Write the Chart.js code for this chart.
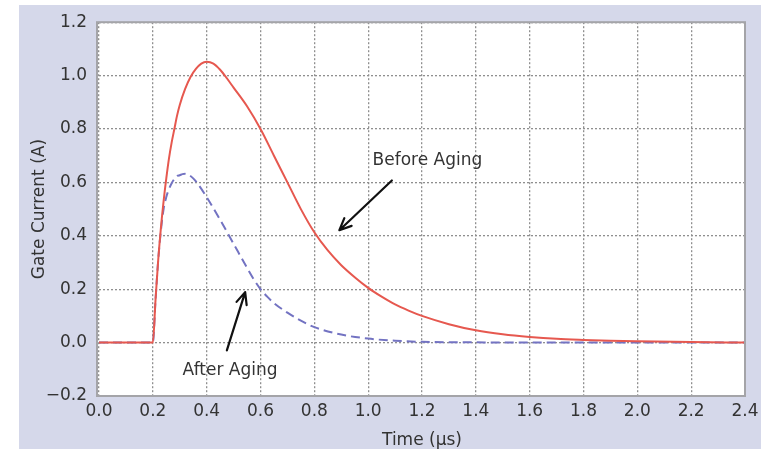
<!DOCTYPE html>
<html>
<head>
<meta charset="utf-8">
<script src="https://cdn.jsdelivr.net/npm/chart.js@4.4.1/dist/chart.umd.min.js"></script>
<style>
  html, body { margin: 0; padding: 0; background: #fff; }
  #wrap { position: relative; width: 769px; height: 449px; overflow: hidden; }
  #panel { position: absolute; left: 19px; top: 5px; width: 742px; height: 444px; background: #d5d8ea; }
  #c { position: absolute; left: 0; top: 0; }
</style>
</head>
<body>
<div id="wrap">
  <div id="panel"></div>
  <canvas id="c" width="769" height="449"></canvas>
</div>
<script>
// Gate current pulse, before / after aging

const timeBefore = [0, 0.2, 0.21, 0.22, 0.23, 0.24, 0.25, 0.26, 0.27, 0.28, 0.29, 0.30, 0.32, 0.34, 0.36, 0.38, 0.40,
  0.425, 0.45, 0.475, 0.5, 0.55, 0.6, 0.65, 0.7, 0.75, 0.8, 0.85, 0.9, 0.95, 1.0, 1.05, 1.1, 1.15, 1.2,
  1.3, 1.4, 1.5, 1.6, 1.7, 1.8, 1.9, 2.0, 2.2, 2.4];
const currentBefore = [0, 0, 0.16, 0.31, 0.43, 0.53, 0.615, 0.69, 0.75, 0.8, 0.85, 0.89, 0.95, 0.995, 1.025, 1.045, 1.052,
  1.045, 1.022, 0.99, 0.955, 0.885, 0.8, 0.7, 0.6, 0.5, 0.413, 0.345, 0.29, 0.245, 0.205, 0.172, 0.143, 0.12, 0.1,
  0.069, 0.046, 0.031, 0.021, 0.014, 0.01, 0.007, 0.005, 0.002, 0];

const timeAfter = [0, 0.2, 0.21, 0.22, 0.23, 0.24, 0.25, 0.26, 0.27, 0.28, 0.29, 0.30, 0.31, 0.32, 0.335, 0.35, 0.363,
  0.4, 0.45, 0.5, 0.55, 0.575, 0.6, 0.625, 0.65, 0.7, 0.75, 0.8, 0.9, 1.0, 1.1, 1.2, 1.4, 1.6, 2.4];
const currentAfter = [0, 0, 0.16, 0.31, 0.42, 0.5, 0.545, 0.575, 0.597, 0.613, 0.624, 0.627, 0.631, 0.632, 0.627, 0.615, 0.6,
  0.545, 0.46, 0.37, 0.28, 0.237, 0.2, 0.172, 0.148, 0.112, 0.082, 0.058, 0.03, 0.015, 0.007, 0.003, 0.001, 0, 0];

const xTicks = [0, 0.2, 0.4, 0.6, 0.8, 1.0, 1.2, 1.4, 1.6, 1.8, 2.0, 2.2, 2.4];
const yTicks = [-0.2, 0, 0.2, 0.4, 0.6, 0.8, 1.0, 1.2];

// annotations: text spot and arrow tail -> tip, in data units
const labelBefore = { text: "Before Aging", at: [1.22, 0.68], tail: [1.088, 0.607], tip: [0.893, 0.421] };
const labelAfter = { text: "After Aging", at: [0.487, -0.103], tail: [0.475, -0.029], tip: [0.543, 0.189] };

const pts = (xs, ys) => xs.map((x, i) => ({ x, y: ys[i] }));
const fmt = (v) => v.toFixed(1).replace("-", "\u2212");
const FONT = "'DejaVu Sans', sans-serif";
const TXT = "#333";

const plotFrame = {
  id: "plotFrame",
  beforeDraw(chart) {
    const { ctx, chartArea: a } = chart;
    ctx.save();
    ctx.fillStyle = "#fff";
    ctx.fillRect(a.left - 2, a.top, a.right - a.left + 2, a.bottom - a.top);
    ctx.restore();
  },
  afterDraw(chart) {
    const { ctx, chartArea: a } = chart;
    ctx.save();
    ctx.strokeStyle = "#a4a4a8";
    ctx.lineWidth = 2;
    ctx.strokeRect(a.left - 2, a.top, a.right - a.left + 2, a.bottom - a.top);
    ctx.restore();
  }
};

function arrow(ctx, x0, y0, x1, y1) {
  const ang = Math.atan2(y1 - y0, x1 - x0);
  const hl = 13, hw = 0.42;
  ctx.beginPath();
  ctx.moveTo(x0, y0);
  ctx.lineTo(x1, y1);
  ctx.moveTo(x1 - hl * Math.cos(ang - hw), y1 - hl * Math.sin(ang - hw));
  ctx.lineTo(x1, y1);
  ctx.lineTo(x1 - hl * Math.cos(ang + hw), y1 - hl * Math.sin(ang + hw));
  ctx.stroke();
}

const notes = {
  id: "notes",
  afterDatasetsDraw(chart) {
    const { ctx, scales: { x, y } } = chart;
    ctx.save();
    ctx.strokeStyle = "#111";
    ctx.lineWidth = 2.2;
    ctx.lineCap = "round";
    ctx.lineJoin = "round";
    ctx.fillStyle = TXT;
    ctx.font = "17px " + FONT;
    ctx.textAlign = "center";
    ctx.textBaseline = "middle";
    [labelBefore, labelAfter].forEach(n => {
      arrow(ctx, x.getPixelForValue(n.tail[0]), y.getPixelForValue(n.tail[1]),
        x.getPixelForValue(n.tip[0]), y.getPixelForValue(n.tip[1]));
      ctx.fillText(n.text, x.getPixelForValue(n.at[0]), y.getPixelForValue(n.at[1]));
    });
    ctx.restore();
  }
};

const gridOpts = { color: "#8f8f8f", lineWidth: 1.3, drawTicks: false };
const dotted = { display: false, dash: [2, 2] };

new Chart(document.getElementById("c"), {
  type: "line",
  data: {
    datasets: [
      { label: "Before Aging", data: pts(timeBefore, currentBefore), borderColor: "#e6584f",
        borderWidth: 2, pointRadius: 0, cubicInterpolationMode: "monotone", fill: false },
      { label: "After Aging", data: pts(timeAfter, currentAfter), borderColor: "#7373c2",
        borderWidth: 2, borderDash: [9, 5], pointRadius: 0, cubicInterpolationMode: "monotone", fill: false }
    ]
  },
  options: {
    responsive: false, animation: false, devicePixelRatio: 1,
    layout: { padding: { left: 0, right: 24, top: 20, bottom: 0 } },
    plugins: { legend: { display: false }, tooltip: { enabled: false } },
    scales: {
      x: {
        type: "linear", min: 0, max: 2.4,
        afterBuildTicks: (s) => { s.ticks = xTicks.map(v => ({ value: v })); },
        afterFit: (s) => { s.height = 53; },
        grid: gridOpts, border: dotted,
        ticks: { color: TXT, padding: 5, maxRotation: 0, font: { family: FONT, size: 17 }, callback: fmt },
        title: { display: true, text: "Time (\u00b5s)", color: TXT, padding: { top: 0, bottom: 0 },
          font: { family: FONT, size: 17, lineHeight: 1 } }
      },
      y: {
        min: -0.2, max: 1.2,
        afterBuildTicks: (s) => { s.ticks = yTicks.map(v => ({ value: v })); },
        afterFit: (s) => { s.width = 99; },
        grid: gridOpts, border: dotted,
        ticks: { color: TXT, padding: 12, font: { family: FONT, size: 17 }, callback: fmt },
        title: { display: true, text: "Gate Current (A)", color: TXT, padding: { top: 31, bottom: 0 },
          font: { family: FONT, size: 17, lineHeight: 1 } }
      }
    }
  },
  plugins: [plotFrame, notes]
});
</script>
</body>
</html>
